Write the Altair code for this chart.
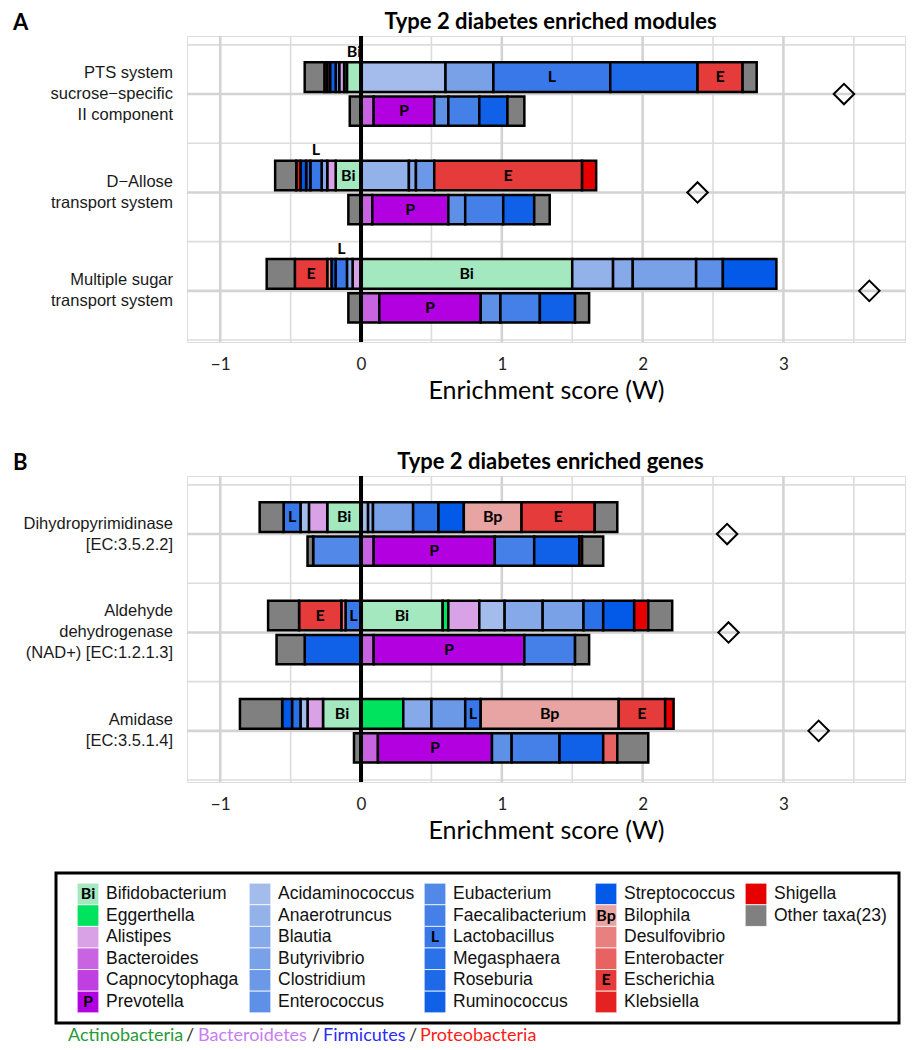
import altair as alt
import pandas as pd

OT = "Other taxa(23)"
taxa = ["Bifidobacterium", "Eggerthella", "Alistipes", "Bacteroides", "Capnocytophaga", "Prevotella",
        "Acidaminococcus", "Anaerotruncus", "Blautia", "Butyrivibrio", "Clostridium", "Enterococcus",
        "Eubacterium", "Faecalibacterium", "Lactobacillus", "Megasphaera", "Roseburia", "Ruminococcus",
        "Streptococcus", "Bilophila", "Desulfovibrio", "Enterobacter", "Escherichia", "Klebsiella",
        "Shigella", OT]
taxa_colors = ["#a3e8bf", "#00e35f", "#d9a1e6", "#c864e1", "#bf3fe0", "#b300e0",
               "#a3bceb", "#93b2ea", "#86a9e9", "#79a1e8", "#6c98e8", "#5f90e8",
               "#5288e8", "#4580e8", "#3878e8", "#2b71e8", "#1e69e8", "#1161e8",
               "#045ae8", "#e8a3a3", "#e88080", "#e86262", "#e63b3b", "#e52222",
               "#e60000", "#808080"]
short_labels = {"Bifidobacterium": "Bi", "Prevotella": "P", "Lactobacillus": "L",
                "Bilophila": "Bp", "Escherichia": "E"}

# ---------------- Panel A: modules ----------------
A_title = "Type 2 diabetes enriched modules"
A_features = ["PTS system\nsucrose\u2212specific\nII component",
              "D\u2212Allose\ntransport system",
              "Multiple sugar\ntransport system"]
A_scores = [3.43, 2.39, 3.61]

A1_taxa = ["Bifidobacterium", "Eggerthella", "Alistipes", "Clostridium", "Ruminococcus", "Desulfovibrio",
           "Klebsiella", OT, "Acidaminococcus", "Butyrivibrio", "Lactobacillus", "Roseburia", "Escherichia", OT]
A1_vals = [-0.10, -0.02, -0.035, -0.025, -0.04, -0.02, -0.02, -0.14, 0.60, 0.34, 0.83, 0.62, 0.32, 0.10]
A2_taxa = [OT, "Bacteroides", "Prevotella", "Enterococcus", "Faecalibacterium", "Ruminococcus", OT]
A2_vals = [-0.08, 0.09, 0.43, 0.10, 0.22, 0.20, 0.12]
A3_taxa = ["Bifidobacterium", "Alistipes", "Blautia", "Lactobacillus", "Roseburia", "Streptococcus",
           "Klebsiella", OT, "Anaerotruncus", "Blautia", "Clostridium", "Escherichia", "Shigella"]
A3_vals = [-0.18, -0.06, -0.04, -0.08, -0.03, -0.04, -0.03, -0.15, 0.34, 0.05, 0.13, 1.05, 0.10]
A4_taxa = [OT, "Bacteroides", "Prevotella", "Enterococcus", "Faecalibacterium", "Ruminococcus", OT]
A4_vals = [-0.09, 0.08, 0.54, 0.12, 0.27, 0.22, 0.11]
A5_taxa = ["Alistipes", "Blautia", "Lactobacillus", "Streptococcus", "Bilophila", "Escherichia", OT,
           "Bifidobacterium", "Anaerotruncus", "Blautia", "Butyrivibrio", "Enterococcus", "Streptococcus"]
A5_vals = [-0.06, -0.04, -0.08, -0.03, -0.03, -0.23, -0.20, 1.50, 0.29, 0.14, 0.45, 0.19, 0.38]
A6_taxa = [OT, "Bacteroides", "Prevotella", "Enterococcus", "Faecalibacterium", "Ruminococcus", OT]
A6_vals = [-0.09, 0.13, 0.72, 0.14, 0.28, 0.25, 0.10]

# ---------------- Panel B: genes ----------------
B_title = "Type 2 diabetes enriched genes"
B_features = ["Dihydropyrimidinase\n[EC:3.5.2.2]",
              "Aldehyde\ndehydrogenase\n(NAD+) [EC:1.2.1.3]",
              "Amidase\n[EC:3.5.1.4]"]
B_scores = [2.60, 2.61, 3.25]

B1_taxa = ["Bifidobacterium", "Alistipes", "Acidaminococcus", "Lactobacillus", OT,
           "Acidaminococcus", "Anaerotruncus", "Butyrivibrio", "Megasphaera", "Streptococcus",
           "Bilophila", "Escherichia", OT]
B1_vals = [-0.24, -0.13, -0.06, -0.12, -0.17, 0.05, 0.035, 0.285, 0.18, 0.18, 0.41, 0.52, 0.16]
B2_taxa = ["Eubacterium", OT, "Bacteroides", "Prevotella", "Faecalibacterium", "Ruminococcus", "Klebsiella", OT]
B2_vals = [-0.34, -0.04, 0.09, 0.86, 0.28, 0.32, 0.02, 0.15]
B3_taxa = ["Lactobacillus", "Desulfovibrio", "Escherichia", OT,
           "Bifidobacterium", "Eggerthella", "Alistipes", "Acidaminococcus", "Blautia", "Butyrivibrio",
           "Megasphaera", "Streptococcus", "Shigella", OT]
B3_vals = [-0.11, -0.03, -0.30, -0.22, 0.58, 0.04, 0.22, 0.18, 0.27, 0.29, 0.14, 0.22, 0.10, 0.17]
B4_taxa = ["Ruminococcus", OT, "Bacteroides", "Prevotella", "Faecalibacterium", OT]
B4_vals = [-0.40, -0.20, 0.09, 1.07, 0.36, 0.10]
B5_taxa = ["Bifidobacterium", "Alistipes", "Acidaminococcus", "Megasphaera", "Streptococcus", OT,
           "Eggerthella", "Blautia", "Clostridium", "Lactobacillus", "Bilophila", "Escherichia", "Shigella"]
B5_vals = [-0.27, -0.11, -0.05, -0.06, -0.07, -0.30, 0.30, 0.20, 0.24, 0.11, 0.98, 0.33, 0.06]
B6_taxa = [OT, "Bacteroides", "Prevotella", "Enterococcus", "Faecalibacterium", "Ruminococcus", "Enterobacter", OT]
B6_vals = [-0.05, 0.12, 0.81, 0.14, 0.34, 0.31, 0.10, 0.22]

x_major = [-1, 0, 1, 2, 3]
x_minor = [-0.5, 0.5, 1.5, 2.5, 3.5]
y_major = [1, 2, 3]
y_minor = [0.5, 1.5, 2.5, 3.5]

phyla = ["Actinobacteria", "/", "Bacteroidetes", "/", "Firmicutes", "/", "Proteobacteria"]
phyla_colors = ["#2a9a38", "#333333", "#c77df2", "#333333", "#2b2bf5", "#333333", "#ff1a1a"]

# ---------------- layout constants ----------------
PX_PER_UNIT = 140.8
W, H = 718, 306
XDOM = [-1.236, -1.236 + W / PX_PER_UNIT]
YDOM = [0.41, 3.52]
UNIT_PX = H / (YDOM[1] - YDOM[0])
SANS = "Liberation Sans"
CAL = "Lato"


def segments(bars):
    rows = []
    for bar_id, (group, sub, tx, vals) in enumerate(bars):
        for t, v in zip(tx, vals):
            rows.append(dict(bar=bar_id, group=group, sub=sub, taxon=t, value=v,
                             order=taxa.index(t), label=short_labels.get(t, "")))
    return pd.DataFrame(rows)


cscale = alt.Scale(domain=taxa, range=taxa_colors)


def panel(title, letter, features, bars, scores, pin_top):
    seg = segments(bars)
    xs = alt.Scale(domain=XDOM, nice=False, zero=False)
    ys = alt.Scale(domain=YDOM, reverse=True, nice=False, zero=False)
    xaxis = alt.Axis(values=x_major, grid=False, ticks=False, domain=False,
                     labelFont=CAL, labelFontSize=17, labelColor="#222222", labelPadding=14,
                     title="Enrichment score (W)", titleFont=CAL, titleFontSize=25,
                     titleFontWeight="normal", titleColor="#000000", titlePadding=6)

    gmx = alt.Chart(pd.DataFrame({"v": x_major})).mark_rule(color="#d3d3d3", strokeWidth=2.6).encode(
        x=alt.X("v:Q", scale=xs, axis=xaxis))
    gnx = alt.Chart(pd.DataFrame({"v": x_minor})).mark_rule(color="#dcdcdc", strokeWidth=1.6).encode(
        x=alt.X("v:Q", scale=xs, axis=xaxis))
    gmy = alt.Chart(pd.DataFrame({"v": y_major})).mark_rule(color="#d3d3d3", strokeWidth=2.6).encode(
        y=alt.Y("v:Q", scale=ys, axis=None))
    gny = alt.Chart(pd.DataFrame({"v": y_minor})).mark_rule(color="#dcdcdc", strokeWidth=1.6).encode(
        y=alt.Y("v:Q", scale=ys, axis=None))

    stacked = alt.Chart(seg).transform_stack(
        stack="value", groupby=["bar"], offset="zero",
        sort=[alt.SortField(field="order", order="ascending")], as_=["x0", "x1"])

    rects = stacked.transform_calculate(
        yt="datum.sub == 0 ? datum.group - 0.323 : datum.group + 0.025",
        yb="datum.sub == 0 ? datum.group - 0.022 : datum.group + 0.323",
    ).mark_rect(stroke="black", strokeWidth=2.5).encode(
        x=alt.X("x0:Q", scale=xs, axis=xaxis), x2="x1:Q",
        y=alt.Y("yt:Q", scale=ys, axis=None), y2="yb:Q",
        color=alt.Color("taxon:N", scale=cscale, legend=None))

    zero = alt.Chart(pd.DataFrame({"v": [0]})).mark_rule(color="black", strokeWidth=4).encode(
        x=alt.X("v:Q", scale=xs, axis=xaxis))

    labels = stacked.transform_calculate(
        w="abs(datum.x1 - datum.x0)", mid="(datum.x0 + datum.x1) / 2"
    ).transform_filter("datum.label != '' && datum.w >= 0.05").transform_calculate(
        ly="datum.w >= 0.09 * length(datum.label) ? (datum.sub == 0 ? datum.group - 0.172 : datum.group + 0.174) : datum.group - 0.43"
    ).mark_text(font=CAL, fontWeight="bold", fontSize=16, color="black", baseline="middle").encode(
        x=alt.X("mid:Q", scale=xs, axis=xaxis), y=alt.Y("ly:Q", scale=ys, axis=None), text="label:N")

    diam = alt.Chart(pd.DataFrame({"group": [1, 2, 3], "score": scores})).mark_point(
        shape="diamond", filled=False, size=420, color="black", strokeWidth=2, opacity=1).encode(
        x=alt.X("score:Q", scale=xs, axis=xaxis), y=alt.Y("group:Q", scale=ys, axis=None))

    # multi-line labels: shift the first line up so that the block is centred on the group
    feat = alt.Chart(pd.DataFrame({"group": [1, 2, 3], "name": features})).transform_calculate(
        fy=f"datum.group - (length(split(datum.name, '\\n')) - 1) * {10.5 / UNIT_PX}"
    ).mark_text(
        font=SANS, fontSize=16.5, align="right", baseline="middle", lineBreak="\n", lineHeight=21,
        color="#1a1a1a").encode(
        x=alt.value(-14), y=alt.Y("fy:Q", scale=ys, axis=None), text="name:N")

    ttl = alt.Chart(pd.DataFrame({"t": [title]})).mark_text(
        font=CAL, fontWeight="bold", fontSize=22, align="center", baseline="alphabetic", color="black").encode(
        x=alt.value(363.5), y=alt.value(-7), text="t:N")
    let = alt.Chart(pd.DataFrame({"t": [letter]})).mark_text(
        font=CAL, fontWeight="bold", fontSize=22, align="left", baseline="alphabetic", color="black").encode(
        x=alt.value(-174), y=alt.value(-6), text="t:N")
    pin = alt.Chart(pd.DataFrame({"t": [0]})).mark_rect(opacity=0).encode(
        x=alt.value(0), x2=alt.value(1), y=alt.value(-pin_top), y2=alt.value(-pin_top + 1))

    return alt.layer(gnx, gny, gmx, gmy, rects, zero, labels, diam, feat, ttl, let, pin).properties(
        width=W, height=H)


A_bars = [(1, 0, A1_taxa, A1_vals), (1, 1, A2_taxa, A2_vals),
          (2, 0, A3_taxa, A3_vals), (2, 1, A4_taxa, A4_vals),
          (3, 0, A5_taxa, A5_vals), (3, 1, A6_taxa, A6_vals)]
B_bars = [(1, 0, B1_taxa, B1_vals), (1, 1, B2_taxa, B2_vals),
          (2, 0, B3_taxa, B3_vals), (2, 1, B4_taxa, B4_vals),
          (3, 0, B5_taxa, B5_vals), (3, 1, B6_taxa, B6_vals)]

chartA = panel(A_title, "A", A_features, A_bars, A_scores, 27)
chartB = panel(B_title, "B", B_features, B_bars, B_scores, 44)

# ---------------- legend (positions relative to the plot-area origin) ----------------
LEG_Y0 = 0
LEG_H = 174
leg_df = pd.DataFrame({"taxon": taxa, "idx": list(range(len(taxa))),
                       "label": [short_labels.get(t, "") for t in taxa]})
leg_base = alt.Chart(leg_df).transform_calculate(
    col="floor(datum.idx / 6)", row="datum.idx % 6"
).transform_calculate(
    sx="[-110, 62, 237, 408, 558][datum.col] + 11",
    sy=f"{LEG_Y0} + 21 + datum.row * 21.6")

swatch = leg_base.mark_square(size=470, opacity=1, stroke="white", strokeWidth=0.8).encode(
    x=alt.X("sx:Q", scale=None, axis=None), y=alt.Y("sy:Q", scale=None, axis=None),
    color=alt.Color("taxon:N", scale=cscale, legend=None))
sw_lab = leg_base.transform_filter("datum.label != ''").mark_text(
    font=CAL, fontWeight="bold", fontSize=16, color="black", baseline="middle").encode(
    x=alt.X("sx:Q", scale=None, axis=None), y=alt.Y("sy:Q", scale=None, axis=None), text="label:N")
names = leg_base.transform_calculate(tx="datum.sx + 18").mark_text(
    font=SANS, fontSize=17.5, align="left", baseline="middle", color="#111111").encode(
    x=alt.X("tx:Q", scale=None, axis=None), y=alt.Y("sy:Q", scale=None, axis=None), text="taxon:N")
box = alt.Chart(pd.DataFrame({"a": [0]})).mark_rect(fillOpacity=0, stroke="black", strokeWidth=3).encode(
    x=alt.value(-131), x2=alt.value(712), y=alt.value(LEG_Y0), y2=alt.value(LEG_Y0 + 150))
ph_df = pd.DataFrame({"piece": phyla, "c": phyla_colors, "i": list(range(len(phyla)))})
phy = alt.Chart(ph_df).transform_calculate(
    px="[-119, -1, 11, 125, 136, 222, 233][datum.i]").mark_text(
    font=CAL, fontSize=18, align="left", baseline="middle").encode(
    x=alt.X("px:Q", scale=None, axis=None), y=alt.value(LEG_Y0 + 163),
    text="piece:N", color=alt.Color("c:N", scale=None, legend=None))
lpin = alt.Chart(pd.DataFrame({"a": [0]})).mark_rect(opacity=0).encode(
    x=alt.value(0), x2=alt.value(1), y=alt.value(0), y2=alt.value(1))

legend = alt.layer(lpin, box, swatch, sw_lab, names, phy).properties(
    width=712, height=LEG_H, view=alt.ViewBackground(strokeOpacity=0))

chart = alt.vconcat(chartA, chartB, legend, spacing=27).properties(
    padding={"left": 4, "top": 0, "right": 0, "bottom": 0}
).configure_view(stroke="black", strokeWidth=2.5).configure(background="white")

chart.save("out.html", embed_options={"renderer": "svg", "actions": False})
